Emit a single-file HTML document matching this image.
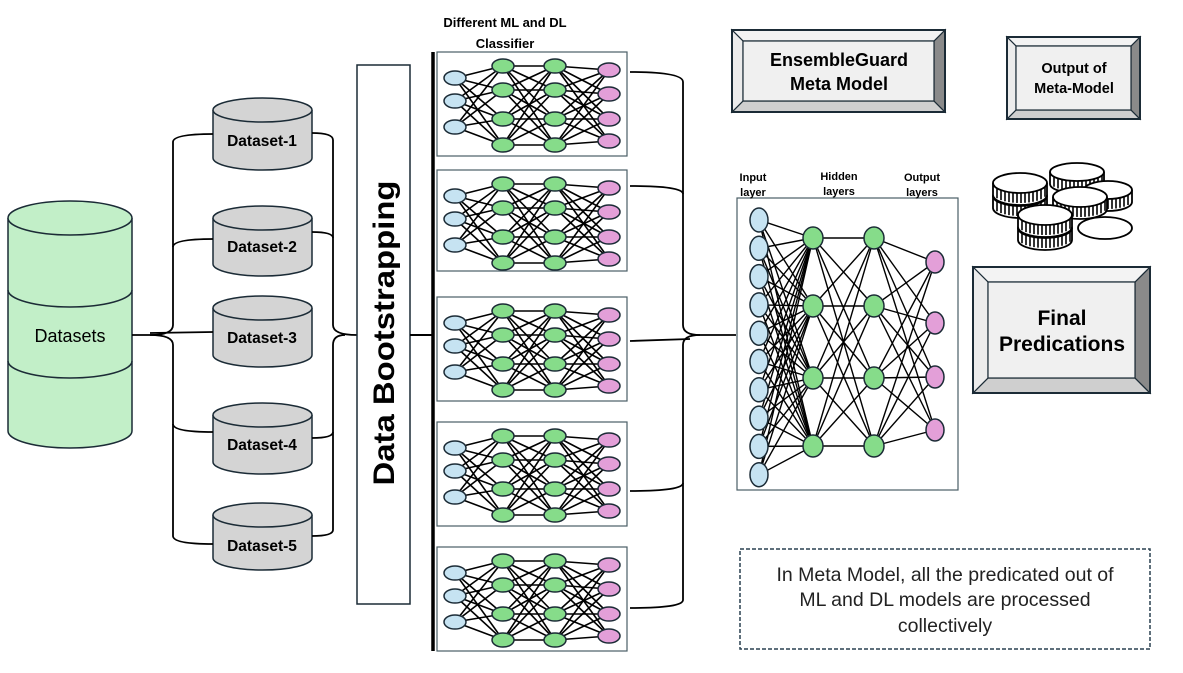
<!DOCTYPE html>
<html><head><meta charset="utf-8"><style>
html,body{margin:0;padding:0;background:#fff}
svg{display:block}
text{font-family:"Liberation Sans",sans-serif}
</style></head><body>
<svg id="s" width="1183" height="673" viewBox="0 0 1183 673" xmlns="http://www.w3.org/2000/svg">
<g id="lines" stroke="#000" fill="none"></g>
<g id="shapes"></g>
<g stroke="#1b2b36" stroke-width="1.5" fill="#c2efc8">
<path d="M8,218 L8,431 A62,17 0 0 0 132,431 L132,218"/>
<ellipse cx="70" cy="218" rx="62" ry="17"/>
<path d="M8,290 A62,17 0 0 0 132,290" fill="none"/>
<path d="M8,361 A62,17 0 0 0 132,361" fill="none"/>
</g>
<text x="70" y="342" font-size="18" text-anchor="middle">Datasets</text>
<g id="cyl" stroke="#1b2b36" stroke-width="1.5" fill="#d4d4d4"></g>
<text x="262" y="146" font-size="15.5" font-weight="bold" text-anchor="middle">Dataset-1</text>
<text x="262" y="252" font-size="15.5" font-weight="bold" text-anchor="middle">Dataset-2</text>
<text x="262" y="343" font-size="15.5" font-weight="bold" text-anchor="middle">Dataset-3</text>
<text x="262" y="450" font-size="15.5" font-weight="bold" text-anchor="middle">Dataset-4</text>
<text x="262" y="551" font-size="15.5" font-weight="bold" text-anchor="middle">Dataset-5</text>
<g stroke="#000" stroke-width="1.8" fill="none">
<path d="M213,134 Q173,134 173,142 L173,325 Q173,335 150,335 L132,335"/>
<path d="M213,239 Q173,239 173,247"/>
<path d="M213,332 L150,333"/>
<path d="M213,432 Q173,432 173,424"/>
<path d="M213,544 Q173,544 173,536 L173,345 Q173,335 150,335"/>
<path d="M312,133 Q333,133 333,140 L333,325 Q333,335 357,335"/>
<path d="M312,232 Q333,232 333,238"/>
<path d="M312,438 Q333,438 333,432"/>
<path d="M312,536 Q333,536 333,530 L333,345 Q333,335 345,335"/>
</g>
<rect x="357" y="65" width="53" height="539" fill="#fff" stroke="#1b2b36" stroke-width="1.5"/>
<text transform="translate(394,333) rotate(-90)" font-size="30" font-weight="bold" text-anchor="middle" textLength="305" lengthAdjust="spacingAndGlyphs">Data Bootstrapping</text>
<line x1="410" y1="335" x2="432" y2="335" stroke="#000" stroke-width="2"/>
<line x1="433" y1="52" x2="433" y2="651" stroke="#000" stroke-width="3.5"/>
<text x="505" y="27" font-size="13" font-weight="bold" text-anchor="middle">Different ML and DL</text>
<text x="505" y="48" font-size="13" font-weight="bold" text-anchor="middle">Classifier</text>
<g stroke="#000" stroke-width="1.8" fill="none">
<path d="M630,72 Q683,72 683,82 L683,325 Q683,335 700,335 L736,335"/>
<path d="M630,186 Q683,186 683,194"/>
<path d="M630,341 L690,339"/>
<path d="M630,491 Q683,491 683,483"/>
<path d="M630,608 Q683,608 683,600 L683,345 Q683,335 700,335"/>
</g>
<text x="753" y="181" font-size="11" font-weight="bold" text-anchor="middle">Input</text>
<text x="753" y="196" font-size="11" font-weight="bold" text-anchor="middle">layer</text>
<text x="839" y="180" font-size="11" font-weight="bold" text-anchor="middle">Hidden</text>
<text x="839" y="195" font-size="11" font-weight="bold" text-anchor="middle">layers</text>
<text x="922" y="181" font-size="11" font-weight="bold" text-anchor="middle">Output</text>
<text x="922" y="196" font-size="11" font-weight="bold" text-anchor="middle">layers</text>
<g id="bevels"></g>
<text x="839" y="66" font-size="18" font-weight="bold" text-anchor="middle">EnsembleGuard</text>
<text x="839" y="90" font-size="18" font-weight="bold" text-anchor="middle">Meta Model</text>
<text x="1074" y="73" font-size="14.5" font-weight="bold" text-anchor="middle">Output of</text>
<text x="1074" y="93" font-size="14.5" font-weight="bold" text-anchor="middle">Meta-Model</text>
<text x="1062" y="325" font-size="21" font-weight="bold" text-anchor="middle">Final</text>
<text x="1062" y="351" font-size="21" font-weight="bold" text-anchor="middle">Predications</text>
<g id="coins" stroke="#000" stroke-width="1.8"></g>
<rect x="740" y="549" width="410" height="100" fill="none" stroke="#2a4150" stroke-width="1.5" stroke-dasharray="4,2"/>
<text x="945" y="581" font-size="19.5" text-anchor="middle" fill="#222">In Meta Model, all the predicated out of</text>
<text x="945" y="606" font-size="19.5" text-anchor="middle" fill="#222">ML and DL models are processed</text>
<text x="945" y="632" font-size="19.5" text-anchor="middle" fill="#222">collectively</text>
</svg>
<script>
var NS="http://www.w3.org/2000/svg";
function el(p,t,a){var e=document.createElementNS(NS,t);for(var k in a)e.setAttribute(k,a[k]);p.appendChild(e);return e;}
var L=document.getElementById('lines'),S=document.getElementById('shapes');
var C=document.getElementById('cyl');
[[98,170],[206,276],[296,367],[403,474],[503,570]].forEach(function(c){
 var t=c[0]+12,b=c[1]-12;
 el(C,'path',{d:'M213,'+t+' L213,'+b+' A49.5,12 0 0 0 312,'+b+' L312,'+t});
 el(C,'ellipse',{cx:262.5,cy:t,rx:49.5,ry:12});
});
[52,170,297,422,547].forEach(function(top){
 var h=(top==170?101:104);
 el(L,'rect',{x:437,y:top,width:190,height:h,fill:'#fff',stroke:'#4a5e66','stroke-width':1.2});
 var layers=[[455,[26,49,75],'#c6e3f2'],[503,[14,38,67,93],'#86dc8a'],[555,[14,38,67,93],'#86dc8a'],[609,[18,42,67,89],'#e39fd8']];
 for(var i=0;i<3;i++)layers[i][1].forEach(function(a){layers[i+1][1].forEach(function(b){
  el(L,'line',{x1:layers[i][0],y1:top+a,x2:layers[i+1][0],y2:top+b,'stroke-width':1.6});});});
 layers.forEach(function(l){l[1].forEach(function(y){el(S,'ellipse',{cx:l[0],cy:top+y,rx:11,ry:7,fill:l[2],stroke:'#1b2b36','stroke-width':1.5});});});
});
el(L,'rect',{x:737,y:198,width:221,height:292,fill:'#fff',stroke:'#4a5e66','stroke-width':1.2});
var inp=[];for(var i=0;i<10;i++)inp.push(220+i*28.3);
var ml=[[759,inp,'#c6e3f2',9,12],[813,[238,306,378,446],'#86dc8a',10,11],[874,[238,306,378,446],'#86dc8a',10,11],[935,[262,323,377,430],'#e39fd8',9,11]];
for(var i=0;i<3;i++)ml[i][1].forEach(function(a){ml[i+1][1].forEach(function(b){
 el(L,'line',{x1:ml[i][0],y1:a,x2:ml[i+1][0],y2:b,'stroke-width':1.4});});});
ml.forEach(function(l){l[1].forEach(function(y){el(S,'ellipse',{cx:l[0],cy:y,rx:l[3],ry:l[4],fill:l[2],stroke:'#1b2b36','stroke-width':1.5});});});
var B=document.getElementById('bevels');
function bevel(x,y,w,h,d){
 var x2=x+w,y2=y+h;
 el(B,'rect',{x:x,y:y,width:w,height:h,fill:'#f0f0f0'});
 el(B,'polygon',{points:[x,y2,x2,y2,x2-d,y2-d,x+d,y2-d].join(' '),fill:'#cfcfcf',stroke:'#1b2b36','stroke-width':1.2});
 el(B,'polygon',{points:[x2,y,x2,y2,x2-d,y2-d,x2-d,y+d].join(' '),fill:'#8a8a8a',stroke:'#1b2b36','stroke-width':1.2});
 el(B,'polygon',{points:[x,y,x2,y,x2-d,y+d,x+d,y+d].join(' '),fill:'#f3f3f3',stroke:'#1b2b36','stroke-width':1.2});
 el(B,'polygon',{points:[x,y,x+d,y+d,x+d,y2-d,x,y2].join(' '),fill:'#ececec',stroke:'#1b2b36','stroke-width':1.2});
 el(B,'rect',{x:x+d,y:y+d,width:w-2*d,height:h-2*d,fill:'#f0f0f0',stroke:'#1b2b36','stroke-width':1.2});
 el(B,'rect',{x:x,y:y,width:w,height:h,fill:'none',stroke:'#1b2b36','stroke-width':2});
}
bevel(732,30,213,82,11);bevel(1007,37,133,82,9);bevel(973,267,177,126,15);
var G=document.getElementById('coins');
function coin(cx,cy,rx,ry,th){
 if(th>0){
 el(G,'path',{d:'M'+(cx-rx)+','+cy+' L'+(cx-rx)+','+(cy+th)+' A'+rx+','+ry+' 0 0 0 '+(cx+rx)+','+(cy+th)+' L'+(cx+rx)+','+cy,fill:'#fff'});
 for(var i=-rx+4;i<rx;i+=4){var yy=cy+ry*Math.sqrt(1-(i*i)/(rx*rx));el(G,'line',{x1:cx+i,y1:yy,x2:cx+i,y2:yy+th-2,'stroke-width':1.6});}
 }
 el(G,'ellipse',{cx:cx,cy:cy,rx:rx,ry:ry,fill:'#fff'});
}
coin(1077,172,27,9,12);
coin(1108,190,24,9,12);
coin(1020,196,27,10,12);
coin(1020,183,27,10,12);
coin(1080,197,27,10,12);
coin(1045,228,27,10,12);
coin(1045,215,27,10,12);
coin(1105,228,27,11,0);
</script>
</body></html>
